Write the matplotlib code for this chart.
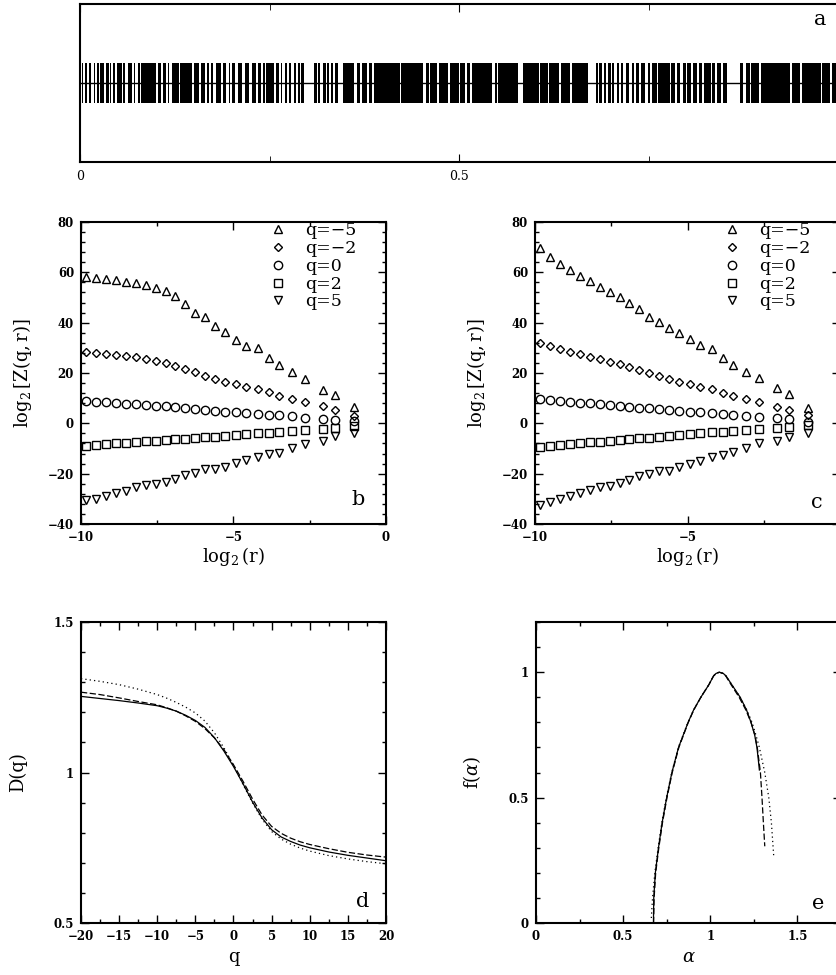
import numpy as np
import matplotlib
matplotlib.use("Agg")
from matplotlib import pyplot as plt
from matplotlib.ticker import MultipleLocator, NullLocator

plt.rcParams['font.family'] = ['DejaVu Serif']
plt.rcParams['mathtext.fontset'] = 'dejavuserif'
plt.rcParams['axes.unicode_minus'] = True

# panel a: black stretches of the event signal (start, end) on [0, 1]
spike_blocks = [
	(0.002, 0.004), (0.007, 0.009), (0.012, 0.015), (0.018, 0.020), (0.022, 0.025),
	(0.027, 0.032), (0.034, 0.038), (0.040, 0.041), (0.043, 0.046), (0.049, 0.055),
	(0.057, 0.060), (0.063, 0.069), (0.071, 0.073), (0.077, 0.079), (0.081, 0.100),
	(0.103, 0.107), (0.109, 0.114), (0.116, 0.118), (0.122, 0.130), (0.132, 0.138),
	(0.139, 0.148), (0.150, 0.157), (0.159, 0.165), (0.168, 0.170), (0.173, 0.176),
	(0.179, 0.186), (0.188, 0.192), (0.196, 0.198), (0.201, 0.205), (0.209, 0.214),
	(0.218, 0.223), (0.227, 0.232), (0.235, 0.239), (0.241, 0.244), (0.246, 0.256),
	(0.258, 0.262), (0.265, 0.267), (0.271, 0.273), (0.276, 0.279), (0.282, 0.285),
	(0.288, 0.290), (0.292, 0.295), (0.309, 0.312), (0.314, 0.317), (0.320, 0.324),
	(0.326, 0.329), (0.331, 0.334), (0.336, 0.341), (0.347, 0.361), (0.365, 0.369),
	(0.372, 0.378), (0.381, 0.385), (0.388, 0.422), (0.424, 0.453), (0.456, 0.460),
	(0.462, 0.471), (0.473, 0.486), (0.488, 0.497), (0.495, 0.500), (0.501, 0.508),
	(0.510, 0.515), (0.517, 0.543), (0.547, 0.550), (0.551, 0.578), (0.584, 0.605),
	(0.607, 0.617), (0.619, 0.632), (0.635, 0.647), (0.649, 0.670), (0.681, 0.683),
	(0.685, 0.688), (0.691, 0.694), (0.697, 0.700), (0.702, 0.705), (0.708, 0.711),
	(0.714, 0.717), (0.720, 0.724), (0.728, 0.731), (0.733, 0.738), (0.740, 0.746),
	(0.749, 0.752), (0.754, 0.761), (0.763, 0.778), (0.780, 0.785), (0.788, 0.792),
	(0.795, 0.799), (0.801, 0.806), (0.809, 0.814), (0.816, 0.820), (0.823, 0.832),
	(0.834, 0.838), (0.840, 0.846), (0.848, 0.853), (0.871, 0.875), (0.878, 0.884),
	(0.885, 0.896), (0.898, 0.937), (0.939, 0.950), (0.953, 0.977), (0.979, 0.990),
	(0.992, 1.000),
]

# panels b and c: log2 Z(q, r) against log2 r
log2_r = [-9.83, -9.5, -9.17, -8.85, -8.52, -8.19, -7.87, -7.54, -7.21, -6.91,
	-6.58, -6.25, -5.92, -5.6, -5.27, -4.92, -4.58, -4.21, -3.85, -3.5,
	-3.08, -2.65, -2.05, -1.67, -1.05]
q_labels = ['q=−5', 'q=−2', 'q=0', 'q=2', 'q=5']

zb_qm5 = [58.0, 57.6, 57.2, 56.9, 56.3, 55.6, 55.0, 53.9, 52.7, 50.7,
	47.3, 43.7, 42.4, 38.7, 36.2, 33.1, 30.9, 29.8, 26.1, 23.2,
	20.4, 17.8, 13.3, 11.3, 6.4]
zb_qm2 = [28.3, 28.0, 27.6, 27.2, 26.8, 26.2, 25.5, 24.8, 23.9, 22.8,
	21.6, 20.2, 18.8, 17.6, 16.6, 15.6, 14.6, 13.8, 12.4, 11.0,
	9.6, 8.5, 6.8, 5.1, 3.0]
zb_q0 = [8.8, 8.5, 8.3, 8.0, 7.8, 7.6, 7.3, 7.0, 6.8, 6.4,
	6.0, 5.6, 5.3, 4.9, 4.6, 4.3, 4.0, 3.8, 3.5, 3.3,
	2.8, 2.2, 1.7, 1.2, 0.8]
zb_q2 = [-8.9, -8.6, -8.3, -8.0, -7.7, -7.4, -7.1, -6.9, -6.6, -6.3,
	-6.1, -5.8, -5.5, -5.3, -5.0, -4.7, -4.3, -4.0, -3.7, -3.4,
	-3.0, -2.6, -2.3, -1.9, -0.9]
zb_q5 = [-30.4, -29.9, -28.9, -27.6, -26.9, -25.4, -24.6, -24.1, -23.2, -22.2,
	-20.6, -19.7, -18.2, -18.3, -17.2, -15.9, -14.5, -13.5, -12.2, -11.6,
	-9.9, -8.2, -7.0, -5.2, -3.8]

zc_qm5 = [69.8, 66.2, 63.3, 60.9, 58.5, 56.6, 54.3, 52.0, 50.3, 47.9,
	45.3, 42.4, 40.4, 38.0, 35.8, 33.5, 31.1, 29.5, 25.8, 23.2,
	20.5, 17.9, 14.2, 11.5, 6.2]
zc_qm2 = [31.8, 30.7, 29.5, 28.4, 27.6, 26.5, 25.4, 24.5, 23.5, 22.3,
	21.2, 20.1, 18.9, 17.6, 16.5, 15.5, 14.3, 13.5, 12.2, 10.9,
	9.6, 8.4, 6.3, 5.3, 3.3]
zc_q0 = [9.6, 9.3, 9.0, 8.6, 8.2, 8.0, 7.6, 7.3, 7.0, 6.6,
	6.2, 6.0, 5.7, 5.3, 5.0, 4.6, 4.4, 4.0, 3.6, 3.3,
	2.9, 2.4, 2.0, 1.6, 0.7]
zc_q2 = [-9.3, -8.9, -8.6, -8.2, -7.8, -7.5, -7.3, -6.9, -6.6, -6.3,
	-5.9, -5.7, -5.3, -5.0, -4.6, -4.4, -4.0, -3.6, -3.3, -3.0,
	-2.6, -2.4, -2.0, -1.3, -0.7]
zc_q5 = [-32.4, -31.1, -30.2, -28.9, -27.8, -26.5, -25.4, -24.9, -23.8, -22.5,
	-20.8, -20.2, -18.8, -18.8, -17.5, -16.1, -14.8, -13.5, -12.6, -11.3,
	-10.0, -8.0, -7.0, -5.3, -3.7]

# panel d: generalized dimensions D(q)
q_vals = [-20, -17.5, -15, -12.5, -10, -8.75, -7.5, -6.25, -5, -3.75, -2.5, -1.25, 0,
	1.25, 2.5, 3.75, 5, 6.25, 7.5, 8.75, 10, 12.5, 15, 17.5, 20]
dq_solid = [1.253, 1.246, 1.239, 1.231, 1.222, 1.214, 1.204, 1.190, 1.173, 1.150, 1.116, 1.071, 1.020,
	0.963, 0.902, 0.849, 0.810, 0.786, 0.771, 0.759, 0.750, 0.736, 0.725, 0.716, 0.707]
dq_dashed = [1.267, 1.259, 1.248, 1.236, 1.225, 1.215, 1.204, 1.188, 1.170, 1.146, 1.115, 1.076, 1.026,
	0.971, 0.912, 0.859, 0.821, 0.798, 0.782, 0.770, 0.761, 0.747, 0.735, 0.726, 0.719]
dq_dotted = [1.312, 1.303, 1.292, 1.277, 1.259, 1.247, 1.233, 1.217, 1.198, 1.171, 1.132, 1.082, 1.023,
	0.960, 0.899, 0.845, 0.804, 0.779, 0.762, 0.749, 0.739, 0.724, 0.713, 0.704, 0.697]

# panel e: singularity spectra f(alpha)
alpha_solid = [0.674, 0.676, 0.685, 0.703, 0.724, 0.750, 0.780, 0.818, 0.873, 0.905, 0.946,
	0.992, 1.019, 1.033, 1.052, 1.075, 1.091, 1.124, 1.172, 1.208, 1.234, 1.255, 1.268, 1.276, 1.282]
f_solid = [0.0, 0.1, 0.2, 0.3, 0.4, 0.5, 0.6, 0.7, 0.8, 0.85, 0.9,
	0.95, 0.985, 0.995, 1.0, 0.995, 0.985, 0.95, 0.9, 0.85, 0.8, 0.75, 0.7, 0.65, 0.61]
alpha_dashed = [0.675, 0.678, 0.687, 0.705, 0.726, 0.752, 0.782, 0.820, 0.874, 0.906, 0.946,
	0.992, 1.019, 1.033, 1.052, 1.074, 1.089, 1.120, 1.166, 1.204, 1.234, 1.256, 1.270,
	1.288, 1.297, 1.305, 1.313]
f_dashed = [0.0, 0.1, 0.2, 0.3, 0.4, 0.5, 0.6, 0.7, 0.8, 0.85, 0.9,
	0.95, 0.985, 0.995, 1.0, 0.995, 0.985, 0.95, 0.9, 0.85, 0.8, 0.75, 0.7,
	0.6, 0.5, 0.4, 0.306]
alpha_dotted = [0.662, 0.669, 0.682, 0.701, 0.722, 0.748, 0.779, 0.817, 0.872, 0.905, 0.946,
	0.992, 1.019, 1.033, 1.052, 1.075, 1.091, 1.124, 1.172, 1.210, 1.240, 1.262, 1.282,
	1.313, 1.336, 1.351, 1.365]
f_dotted = [0.02, 0.1, 0.2, 0.3, 0.4, 0.5, 0.6, 0.7, 0.8, 0.85, 0.9,
	0.95, 0.985, 0.995, 1.0, 0.995, 0.985, 0.95, 0.9, 0.85, 0.8, 0.75, 0.7,
	0.6, 0.5, 0.4, 0.26]

tick_font = dict(family='DejaVu Serif', weight='bold', size=8.5)
label_size = 13
letter_size = 15


def style_axes(ax, xmajor, xminor, ymajor, yminor):
	ax.xaxis.set_major_locator(MultipleLocator(xmajor))
	ax.xaxis.set_minor_locator(MultipleLocator(xminor))
	ax.yaxis.set_major_locator(MultipleLocator(ymajor))
	ax.yaxis.set_minor_locator(MultipleLocator(yminor))
	ax.tick_params(which='both', direction='in', top=True, right=True, width=1.0)
	ax.tick_params(which='major', length=5.5, pad=5)
	ax.tick_params(which='minor', length=3)
	for lab in ax.get_xticklabels() + ax.get_yticklabels():
		lab.set_fontproperties(tick_font)
	for sp in ax.spines.values():
		sp.set_linewidth(1.5)


fig = plt.figure(figsize=(8.36, 9.75), dpi=100)

# ---- panel a
ax_a = fig.add_axes([0.0957, 0.8338, 0.9067, 0.1621])
ax_a.broken_barh([(x0, x1 - x0) for x0, x1 in spike_blocks], (-0.5, 1.0),
	facecolors='black', edgecolors='none')
ax_a.axhline(0, color='black', linewidth=1.0)
ax_a.set_xlim(0, 1)
ax_a.set_ylim(-2, 2)
ax_a.set_xticks([0, 0.5])
ax_a.set_xticklabels(['0', '0.5'])
ax_a.set_xticks([0.25, 0.75], minor=True)
ax_a.yaxis.set_major_locator(NullLocator())
ax_a.tick_params(which='both', direction='in', top=True, labelsize=9, pad=6)
ax_a.tick_params(which='major', length=6)
ax_a.tick_params(which='minor', length=4)
for sp in ax_a.spines.values():
	sp.set_linewidth(1.5)
ax_a.text(0.976, 0.905, 'a', transform=ax_a.transAxes, fontsize=letter_size,
	ha='center', va='center')

# ---- panels b and c
series_style = [('^', 6.0), ('D', 3.8), ('o', 6.0), ('s', 5.2), ('v', 6.0)]
panels_bc = [
	([0.0969, 0.4626, 0.3648, 0.3097], [zb_qm5, zb_qm2, zb_q0, zb_q2, zb_q5], 'b', 0.908, 0.080),
	([0.6400, 0.4626, 0.3648, 0.3097], [zc_qm5, zc_qm2, zc_q0, zc_q2, zc_q5], 'c', 0.924, 0.072),
]
for rect, series, letter, lx, ly in panels_bc:
	ax = fig.add_axes(rect)
	for (mk, ms), vals, lab in zip(series_style, series, q_labels):
		ax.plot(log2_r, vals, linestyle='none', marker=mk, markersize=ms,
			markerfacecolor='none', markeredgecolor='black', markeredgewidth=1.0,
			label=lab)
	ax.set_xlim(-10, 0)
	ax.set_ylim(-40, 80)
	style_axes(ax, 5, 2.5, 20, 4)
	ax.set_xlabel(r'$\log_2(\mathrm{r})$', fontsize=label_size, va='center')
	ax.xaxis.set_label_coords(0.5, -0.108)
	ax.set_ylabel(r'$\log_2[\mathrm{Z(q,r)}]$', fontsize=label_size, va='center')
	ax.yaxis.set_label_coords(-0.193, 0.5)
	ax.legend(loc='upper left', bbox_to_anchor=(0.616, 1.0), frameon=False,
		fontsize=12.5, numpoints=1, handlelength=1.0, handletextpad=1.1,
		labelspacing=0.05, borderpad=0.0, borderaxespad=0.0)
	ax.text(lx, ly, letter, transform=ax.transAxes, fontsize=letter_size,
		ha='center', va='center')

# ---- panel d
ax_d = fig.add_axes([0.0969, 0.0533, 0.3648, 0.3087])
ax_d.plot(q_vals, dq_solid, color='black', linewidth=0.9, linestyle='-')
ax_d.plot(q_vals, dq_dashed, color='black', linewidth=0.9, linestyle=(0, (5, 2)))
ax_d.plot(q_vals, dq_dotted, color='black', linewidth=0.9, linestyle=(0, (1, 2.5)))
ax_d.set_xlim(-20, 20)
ax_d.set_ylim(0.5, 1.5)
style_axes(ax_d, 5, 2.5, 0.5, 0.1)
ax_d.set_xticklabels([f'{int(t)}'.replace('-', '−') for t in ax_d.get_xticks()])
ax_d.set_yticklabels([f'{t:g}' for t in ax_d.get_yticks()])
for lab in ax_d.get_xticklabels() + ax_d.get_yticklabels():
	lab.set_fontproperties(tick_font)
ax_d.set_xlabel('q', fontsize=label_size, va='center')
ax_d.xaxis.set_label_coords(0.5, -0.112)
ax_d.set_ylabel('D(q)', fontsize=label_size, va='center')
ax_d.yaxis.set_label_coords(-0.207, 0.5)
ax_d.text(0.925, 0.07, 'd', transform=ax_d.transAxes, fontsize=letter_size,
	ha='center', va='center')

# ---- panel e
ax_e = fig.add_axes([0.6411, 0.0533, 0.3648, 0.3087])
ax_e.plot(alpha_solid, f_solid, color='black', linewidth=0.9, linestyle='-')
ax_e.plot(alpha_dashed, f_dashed, color='black', linewidth=0.9, linestyle=(0, (5, 2)))
ax_e.plot(alpha_dotted, f_dotted, color='black', linewidth=0.9, linestyle=(0, (1, 2.5)))
ax_e.set_xlim(0, 1.75)
ax_e.set_ylim(0, 1.2)
style_axes(ax_e, 0.5, 0.25, 0.5, 0.1)
ax_e.set_xticklabels([f'{t:g}' for t in ax_e.get_xticks()])
ax_e.set_yticklabels([f'{t:g}' for t in ax_e.get_yticks()])
for lab in ax_e.get_xticklabels() + ax_e.get_yticklabels():
	lab.set_fontproperties(tick_font)
ax_e.set_xlabel(r'$\alpha$', fontsize=label_size, va='center')
ax_e.xaxis.set_label_coords(0.5, -0.112)
ax_e.set_ylabel(r'f($\alpha$)', fontsize=label_size, va='center')
ax_e.yaxis.set_label_coords(-0.209, 0.5)
ax_e.text(0.926, 0.066, 'e', transform=ax_e.transAxes, fontsize=letter_size,
	ha='center', va='center')

fig.savefig('out.png', dpi=100)
